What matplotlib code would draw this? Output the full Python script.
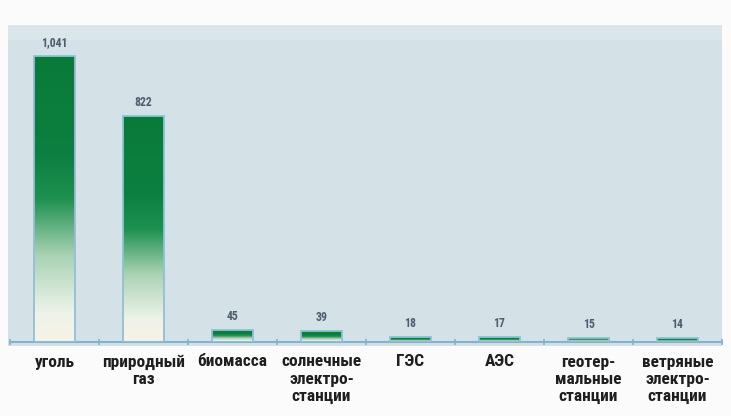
import matplotlib
matplotlib.use("Agg")
import matplotlib.pyplot as plt
import numpy as np
from matplotlib.colors import LinearSegmentedColormap
from matplotlib.patches import Rectangle
from matplotlib import font_manager

categories = ["уголь", "природный\nгаз", "биомасса", "солнечные\nэлектро-\nстанции",
              "ГЭС", "АЭС", "геотер-\nмальные\nстанции", "ветряные\nэлектро-\nстанции"]
values = [1041, 822, 45, 39, 18, 17, 15, 14]
value_labels = ["1,041", "822", "45", "39", "18", "17", "15", "14"]

names = {f.name for f in font_manager.fontManager.ttflist}
fam = [f for f in ["Liberation Sans Narrow", "Roboto Condensed", "Liberation Sans", "DejaVu Sans"] if f in names]
plt.rcParams['font.family'] = fam

W, H = 731, 416
fig = plt.figure(figsize=(W/100, H/100), dpi=100)
fig.patch.set_facecolor("#fbfbfb")

def fx(px): return px / W
def fy(py): return 1 - py / H
fig.patches.append(Rectangle((fx(8), fy(346)), fx(714), (346-25)/H, transform=fig.transFigure,
                             facecolor="#d4e1e6", edgecolor="none", zorder=-2))
fig.patches.append(Rectangle((fx(8), fy(40)), fx(714), 15/H, transform=fig.transFigure,
                             facecolor="#dae6ea", edgecolor="none", zorder=-1))

ax = fig.add_axes([fx(10), fy(342), fx(712), (342-25)/H])
ax.set_zorder(2)
ax.set_facecolor("none")
n = len(categories)
x = np.arange(n)
ax.set_xlim(-0.5, n - 0.5)
ax.set_ylim(0, max(values) * 1.108)

cmap = LinearSegmentedColormap.from_list("g", [
    (0.0, "#f8f2e4"), (0.1, "#eef3ea"), (0.3, "#a9d3b4"),
    (0.5, "#1d9150"), (0.65, "#0c8040"), (1.0, "#0a7a3a")])
grad = np.linspace(0, 1, 256).reshape(-1, 1)

bars = ax.bar(x, values, width=0.46, facecolor="none", edgecolor="#93bfd6", linewidth=1.3, zorder=3)
for b in bars:
    x0, w, h = b.get_x(), b.get_width(), b.get_height()
    im = ax.imshow(grad, cmap=cmap, origin="lower", aspect="auto",
                   extent=(x0, x0 + w, 0, h), zorder=2)
    im.set_clip_path(b)

for xi, v, lab in zip(x, values, value_labels):
    ax.annotate(lab, (xi, v), xytext=(0, 5), textcoords="offset points",
                ha="center", va="bottom", fontsize=8.5, fontweight="bold", color="#4b5d6e")

for s in ["top", "right", "left"]:
    ax.spines[s].set_visible(False)
ax.spines["bottom"].set_color("#7fb3d1")
ax.spines["bottom"].set_linewidth(1.5)
ax.set_yticks([])
ax.set_xticks(x)
ax.set_xticklabels(categories, fontsize=12.5, fontweight="bold", color="#1e1e1e",
                   linespacing=1.2, va="top")
ax.tick_params(axis="x", which="major", length=0, pad=9)
ax.set_xticks(np.arange(-0.5, n, 1.0), minor=True)
ax.tick_params(axis="x", which="minor", length=4, direction="inout", color="#7fb3d1", width=1.2)

fig.savefig("out.png", dpi=100, facecolor=fig.get_facecolor())
